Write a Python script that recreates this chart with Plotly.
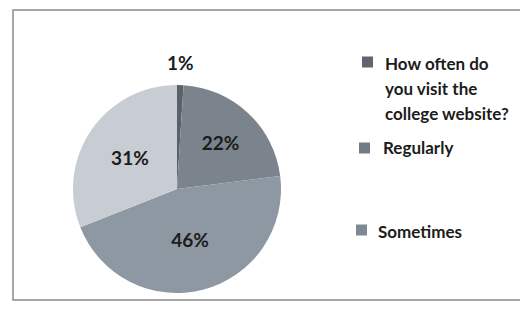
import plotly.graph_objects as go

labels = ["How often do you visit the college website?", "Regularly", "Sometimes", "Other"]
values = [1, 22, 46, 31]
colors = ["#5b6168", "#7b848d", "#8e98a2", "#c7cdd3"]
legend_lines = [["How often do", "you visit the", "college website?"], ["Regularly"], ["Sometimes"]]
legend_colors = ["#5f666e", "#737c85", "#7f8992"]

W, H, OFF = 528, 309, 8  # page body margin offsets the figure by 8px


def px(sx):
    return (sx - OFF) / W


def py(sy):
    return 1 - (sy - OFF) / H


pie_left, pie_right, pie_top, pie_bot = 73, 281, 85, 293
fig = go.Figure()
fig.add_trace(go.Pie(
    labels=labels, values=values, sort=False, direction="clockwise", rotation=0,
    marker=dict(colors=colors, line=dict(width=0)),
    texttemplate=["", "<b>%{value}%</b>", "<b>%{value}%</b>", "<b>%{value}%</b>"],
    textinfo="text", textposition="inside",
    insidetextorientation="horizontal",
    textfont=dict(family="Lato", size=19, color="#1c1c1c"),
    domain=dict(x=[px(pie_left), px(pie_right)], y=[py(pie_bot), py(pie_top)]),
    showlegend=False, hoverinfo="label+percent",
))
# label of the thin first slice, placed above the pie top
fig.add_annotation(xref="paper", yref="paper",
                   x=(px(pie_left) + px(pie_right)) / 2 + 0.006, y=py(pie_top) + 0.03,
                   text="<b>%d%%</b>" % values[0], showarrow=False,
                   xanchor="center", yanchor="bottom",
                   font=dict(family="Lato", size=19, color="#1c1c1c"))

# custom legend (screen-pixel positions)
sw_x = [362, 359, 356]
sw_y = [62, 148, 230]
line_y = [[63, 88.5, 114], [148], [231]]
txt_x = [383, 381, 376]
for i, (lines, col) in enumerate(zip(legend_lines, legend_colors)):
    fig.add_shape(type="rect", xref="paper", yref="paper",
                  x0=px(sw_x[i]), x1=px(sw_x[i] + 11),
                  y0=py(sw_y[i] + 5.5), y1=py(sw_y[i] - 5.5),
                  fillcolor=col, line=dict(width=0))
    for ln, ly in zip(lines, line_y[i]):
        fig.add_annotation(xref="paper", yref="paper", x=px(txt_x[i]), y=py(ly),
                           text="<b>" + ln + "</b>", showarrow=False,
                           xanchor="left", yanchor="middle",
                           font=dict(family="Lato", size=17, color="#1c1c1c"))

# border of chart area
fig.add_shape(type="rect", xref="paper", yref="paper",
              x0=px(13), x1=1.05, y0=py(300), y1=py(10),
              line=dict(color="#8a8a8a", width=1.5), fillcolor="rgba(0,0,0,0)")

fig.update_layout(
    width=W, height=H, margin=dict(l=0, r=0, t=0, b=0),
    paper_bgcolor="#ffffff", plot_bgcolor="#ffffff",
)
fig.write_html("out.html")
